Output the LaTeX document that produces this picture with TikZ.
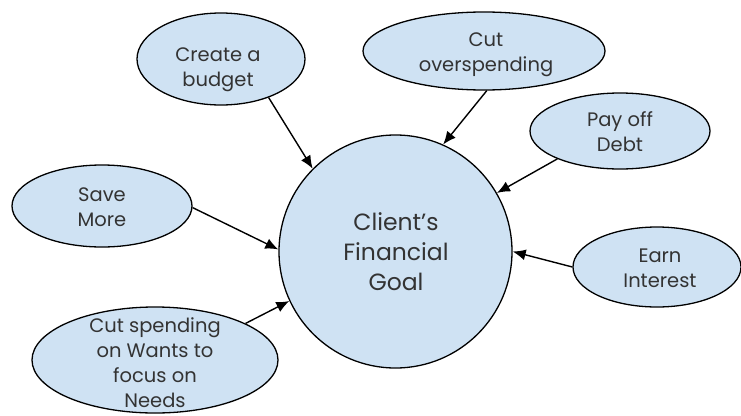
\documentclass[tikz,border=0pt]{standalone}
\usepackage{fontspec}
\setmainfont{Poppins}
\usetikzlibrary{shapes.geometric,arrows.meta}
\definecolor{bubble}{HTML}{CFE2F3}
\definecolor{ink}{HTML}{333333}
\tikzset{
  bub/.style={ellipse,draw=black,line width=1.3pt,fill=bubble,inner sep=0pt},
  lbl/.style={align=center,text=ink,font=\fontsize{19.5}{25}\selectfont},
  biglbl/.style={align=center,text=ink,font=\fontsize{23.5}{30}\selectfont},
  conn/.style={draw=black,line width=1.4pt,-{Latex[length=13pt,width=11pt]}}
}
\begin{document}
\begin{tikzpicture}[x=1pt,y=1pt]
\useasboundingbox (0,0) rectangle (741,-415);
% central circle
\node[bub,circle,minimum size=233pt] (goal) at (395.5,-251.5) {};
\node[biglbl] (tgoal) at (396,-252) {Client’s\\Financial\\Goal};
% satellites
\node[bub,minimum width=168pt,minimum height=92pt] (budget) at (221,-59) {};
\node[lbl] (tbudget) at (218,-70) {Create a\\budget};
\node[bub,minimum width=242pt,minimum height=78pt] (over) at (484,-51) {};
\node[lbl] (tover) at (486,-55) {Cut\\overspending};
\node[bub,minimum width=180pt,minimum height=76pt] (debt) at (620,-131) {};
\node[lbl] (tdebt) at (620,-132) {Pay off\\Debt};
\node[bub,minimum width=180pt,minimum height=82pt] (save) at (102,-206) {};
\node[lbl] (tsave) at (102,-207) {Save\\More};
\node[bub,minimum width=168pt,minimum height=80pt] (earn) at (657,-267) {};
\node[lbl] (tearn) at (660,-268) {Earn\\Interest};
\node[bub,minimum width=246pt,minimum height=106pt] (wants) at (155,-360) {};
\node[lbl] (twants) at (155,-363) {Cut spending\\on Wants to\\focus on\\Needs};
% connectors
\draw[conn] (budget.-39) -- (goal.135);
\draw[conn] (over.-86) -- (goal.66.5);
\draw[conn] (debt.204) -- (goal.30);
\draw[conn] (earn.180) -- (goal.-0.7);
\draw[conn] (save.-1.3) -- (goal.179.3);
\draw[conn] (wants.22.8) -- (goal.205.4);
\end{tikzpicture}
\end{document}
